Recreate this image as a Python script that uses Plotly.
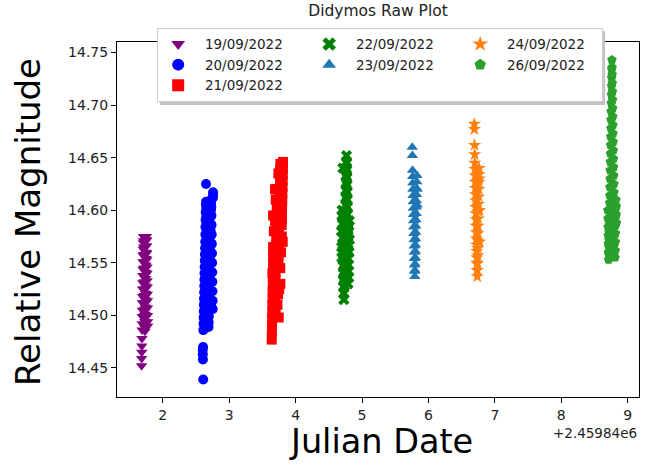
import plotly.graph_objects as go

JD_OFFSET = 2459840  # shown as +2.45984e6

labels = ["19/09/2022", "20/09/2022", "21/09/2022", "22/09/2022",
          "23/09/2022", "24/09/2022", "26/09/2022"]

# 19/09/2022
x19 = [1.680, 1.681, 1.683, 1.684, 1.686, 1.687, 1.689, 1.690, 1.692, 1.693,
       1.695, 1.696, 1.698, 1.699, 1.701, 1.702, 1.704, 1.705, 1.707, 1.708,
       1.710, 1.711, 1.713, 1.714, 1.716, 1.717, 1.719, 1.720, 1.722, 1.723,
       1.725, 1.726, 1.728, 1.729, 1.731, 1.732, 1.734, 1.735, 1.737, 1.738,
       1.740, 1.741, 1.743, 1.744, 1.746, 1.747, 1.749, 1.750, 1.752, 1.753,
       1.755, 1.756, 1.758, 1.759, 1.761, 1.762, 1.764, 1.765, 1.767, 1.768,
       1.769, 1.770, 1.771, 1.772]
y19 = [14.452, 14.459, 14.465, 14.471, 14.478, 14.486, 14.492, 14.499, 14.505, 14.512,
       14.518, 14.525, 14.531, 14.538, 14.544, 14.551, 14.557, 14.563, 14.569, 14.575,
       14.571, 14.565, 14.558, 14.551, 14.545, 14.538, 14.532, 14.525, 14.519, 14.512,
       14.506, 14.500, 14.494, 14.489, 14.485, 14.488,
       14.494, 14.501, 14.508, 14.515, 14.521, 14.528, 14.535, 14.541, 14.548, 14.554,
       14.560, 14.566, 14.571, 14.575, 14.572,
       14.566, 14.559, 14.553, 14.546, 14.540, 14.533, 14.527, 14.520, 14.514, 14.507,
       14.500, 14.494, 14.490]

# 20/09/2022
x20 = [2.600, 2.602, 2.604, 2.606, 2.608, 2.610, 2.612, 2.614, 2.616, 2.618,
       2.620, 2.622, 2.624, 2.626, 2.628, 2.630, 2.632, 2.634, 2.636, 2.638,
       2.640, 2.642, 2.644, 2.646, 2.648, 2.650, 2.652, 2.654, 2.656, 2.658,
       2.660, 2.662, 2.664, 2.666, 2.668, 2.670, 2.672, 2.674, 2.676, 2.678,
       2.680, 2.682, 2.684, 2.686, 2.688, 2.690, 2.692, 2.694, 2.696, 2.698,
       2.700, 2.702, 2.704, 2.706, 2.708, 2.710, 2.712, 2.714, 2.716, 2.718,
       2.720, 2.722, 2.724, 2.726, 2.728, 2.730, 2.732, 2.734, 2.736, 2.738,
       2.740, 2.742, 2.744, 2.746, 2.748, 2.750, 2.752, 2.754, 2.756, 2.758]
y20 = [14.467, 14.463, 14.458, 14.470, 14.439, 14.486,
       14.492, 14.498, 14.504, 14.510, 14.516, 14.522, 14.528, 14.534, 14.540, 14.546,
       14.552, 14.558, 14.564, 14.570, 14.577, 14.584, 14.591, 14.598,
       14.605, 14.625, 14.608,
       14.601, 14.594, 14.588, 14.581, 14.574, 14.567, 14.561, 14.554, 14.547, 14.540,
       14.534, 14.527, 14.520, 14.513, 14.507, 14.500, 14.494, 14.489, 14.493,
       14.499, 14.505, 14.511, 14.518, 14.524, 14.530, 14.537, 14.543, 14.549, 14.556,
       14.562, 14.568, 14.575, 14.581, 14.587, 14.594, 14.600, 14.606, 14.610,
       14.603, 14.595, 14.586, 14.577, 14.568, 14.559, 14.550, 14.541, 14.532, 14.523,
       14.514, 14.506,
       14.612, 14.617, 14.614]

# 21/09/2022
x21 = [3.640, 3.642, 3.644, 3.646, 3.648, 3.650, 3.652, 3.654, 3.656, 3.658,
       3.660, 3.662, 3.664, 3.666, 3.668, 3.670, 3.672, 3.674, 3.676, 3.678,
       3.680, 3.682, 3.684, 3.686, 3.688, 3.690, 3.692, 3.694, 3.696, 3.698,
       3.700, 3.702, 3.704, 3.706, 3.708, 3.710, 3.712, 3.714, 3.716, 3.718,
       3.720, 3.722, 3.724, 3.726, 3.728, 3.730, 3.732, 3.734, 3.736, 3.738,
       3.740, 3.742, 3.744, 3.746, 3.748, 3.750, 3.752, 3.754, 3.756, 3.758,
       3.760, 3.762, 3.764, 3.766, 3.768, 3.770, 3.772, 3.774, 3.776, 3.778,
       3.780, 3.782, 3.784, 3.786, 3.788, 3.790, 3.792, 3.794, 3.796, 3.798,
       3.800, 3.802, 3.804, 3.806, 3.808, 3.810,
       3.650, 3.660, 3.672, 3.690, 3.700, 3.712, 3.726, 3.740, 3.752, 3.768,
       3.780, 3.792, 3.660, 3.700, 3.745, 3.770, 3.690, 3.735, 3.805, 3.715]
y21 = [14.477, 14.484, 14.490, 14.497, 14.503, 14.510, 14.516, 14.523, 14.529, 14.536,
       14.542, 14.549, 14.555, 14.561,
       14.556, 14.550, 14.544, 14.538, 14.532, 14.526, 14.520, 14.514, 14.508, 14.503,
       14.509, 14.515, 14.521, 14.528, 14.534, 14.541, 14.547, 14.554, 14.560, 14.567,
       14.573, 14.580, 14.586, 14.592, 14.598, 14.603,
       14.598, 14.592, 14.586, 14.580, 14.574, 14.568, 14.562, 14.556, 14.550, 14.545,
       14.551, 14.557, 14.563, 14.569, 14.576, 14.582, 14.588, 14.595, 14.601, 14.607,
       14.614, 14.620, 14.626, 14.632, 14.638, 14.644,
       14.639, 14.633, 14.627, 14.621, 14.615, 14.609, 14.603, 14.597, 14.591, 14.586,
       14.592, 14.598, 14.604, 14.610, 14.616, 14.622, 14.628, 14.634, 14.640, 14.646,
       14.540, 14.565, 14.580, 14.590, 14.500, 14.620, 14.510, 14.635, 14.525, 14.545,
       14.560, 14.575, 14.595, 14.610, 14.498, 14.530, 14.620, 14.520, 14.570, 14.560]

# 22/09/2022
x22 = [4.700, 4.702, 4.704, 4.706, 4.708, 4.710, 4.712, 4.714, 4.716, 4.718,
       4.720, 4.722, 4.724, 4.726, 4.728, 4.730, 4.732, 4.734, 4.736, 4.738,
       4.740, 4.742, 4.744, 4.746, 4.748, 4.750, 4.752, 4.754, 4.756, 4.758,
       4.760, 4.762, 4.764, 4.766, 4.768, 4.770, 4.772, 4.774, 4.776, 4.778,
       4.780, 4.782, 4.784, 4.786, 4.788, 4.790, 4.792, 4.794, 4.796, 4.798,
       4.800,
       4.690, 4.692, 4.808, 4.810, 4.695, 4.805, 4.712, 4.788, 4.698, 4.803]
y22 = [14.600, 14.594, 14.587, 14.580, 14.574, 14.567, 14.560, 14.553, 14.547, 14.540,
       14.533, 14.527, 14.521, 14.515,
       14.521, 14.528, 14.535, 14.542, 14.549, 14.556, 14.563, 14.570, 14.577, 14.584,
       14.591, 14.598, 14.605, 14.612, 14.619, 14.626, 14.633, 14.640, 14.646, 14.652,
       14.645, 14.638, 14.631, 14.624, 14.617, 14.610, 14.603, 14.596, 14.589, 14.582,
       14.575, 14.568, 14.561, 14.554, 14.548, 14.542, 14.536,
       14.580, 14.565, 14.590, 14.572, 14.555, 14.560, 14.640, 14.530, 14.595, 14.585]

# 23/09/2022
x23 = [5.756, 5.758, 5.760, 5.762, 5.764, 5.766, 5.768, 5.770, 5.772, 5.774,
       5.776, 5.778, 5.780, 5.782, 5.784, 5.786, 5.788, 5.790, 5.792, 5.794,
       5.796, 5.798, 5.800, 5.802, 5.804, 5.806, 5.808, 5.810, 5.812, 5.814,
       5.816, 5.818, 5.820, 5.822, 5.824, 5.826, 5.828, 5.830]
y23 = [14.660, 14.652,
       14.638, 14.632, 14.626, 14.620, 14.614, 14.608, 14.602, 14.596, 14.590, 14.584,
       14.578, 14.572, 14.566, 14.560, 14.554, 14.548, 14.542, 14.537,
       14.543, 14.549, 14.555, 14.561, 14.567, 14.573, 14.579, 14.585, 14.591, 14.597,
       14.603, 14.609, 14.615, 14.621, 14.627, 14.633,
       14.620, 14.605]

# 24/09/2022
x24 = [6.690, 6.692, 6.694, 6.696, 6.698, 6.700, 6.702, 6.704, 6.706, 6.708,
       6.710, 6.712, 6.714, 6.716, 6.718, 6.720, 6.722, 6.724, 6.726, 6.728,
       6.730, 6.732, 6.734, 6.736, 6.738, 6.740, 6.742, 6.744, 6.746, 6.748,
       6.750, 6.752, 6.754, 6.756, 6.758, 6.760, 6.762, 6.764, 6.766, 6.768,
       6.770]
y24 = [14.682, 14.677, 14.662, 14.653,
       14.645, 14.639, 14.633, 14.627, 14.621, 14.615, 14.609, 14.603, 14.597, 14.591,
       14.585, 14.579, 14.573, 14.567, 14.561, 14.555, 14.549, 14.543, 14.537,
       14.543, 14.550, 14.557, 14.564, 14.571, 14.578, 14.585, 14.592, 14.599, 14.606,
       14.613, 14.620, 14.627, 14.634, 14.640,
       14.630, 14.600, 14.570]

# 26/09/2022
x26 = [8.700, 8.702, 8.704, 8.706, 8.708, 8.710, 8.712, 8.714, 8.716, 8.718,
       8.720, 8.722, 8.724, 8.726, 8.728, 8.730, 8.732, 8.734, 8.736, 8.738,
       8.740, 8.742, 8.744, 8.746, 8.748, 8.750, 8.752, 8.754, 8.756, 8.758,
       8.760, 8.762, 8.764, 8.766, 8.768, 8.770, 8.772, 8.774, 8.776, 8.778,
       8.780, 8.782, 8.784, 8.786, 8.788, 8.790, 8.792, 8.794, 8.796, 8.798,
       8.800, 8.802, 8.804, 8.806, 8.808, 8.810, 8.812, 8.814, 8.816, 8.818,
       8.820, 8.822, 8.824, 8.826, 8.828, 8.830]
y26 = [14.600, 14.592, 14.584, 14.576, 14.568, 14.560, 14.553, 14.558, 14.565, 14.572,
       14.579, 14.586, 14.593, 14.600, 14.607, 14.614,
       14.622, 14.630, 14.638, 14.646, 14.654, 14.662, 14.670, 14.678, 14.686, 14.694,
       14.702, 14.710, 14.718, 14.726, 14.734, 14.743,
       14.736, 14.729, 14.721, 14.713, 14.705, 14.697, 14.689, 14.681, 14.673, 14.665,
       14.657, 14.649, 14.641, 14.633, 14.625, 14.617, 14.609, 14.601, 14.593, 14.585,
       14.577, 14.569, 14.561, 14.555,
       14.562, 14.570, 14.578, 14.586, 14.594, 14.602, 14.610, 14.604, 14.596, 14.588]

series = [
    (labels[0], x19, y19, "triangle-down", "#800080"),
    (labels[1], x20, y20, "circle", "#0000ff"),
    (labels[2], x21, y21, "square", "#ff0000"),
    (labels[3], x22, y22, "x", "#008000"),
    (labels[4], x23, y23, "triangle-up", "#1f77b4"),
    (labels[5], x24, y24, "star", "#ff7f0e"),
    (labels[6], x26, y26, "pentagon", "#2ca02c"),
]
for name, xs, ys, _, _ in series:
    assert len(xs) == len(ys), (name, len(xs), len(ys))

xtick_vals = [2, 3, 4, 5, 6, 7, 8, 9]
ytick_vals = [14.45, 14.50, 14.55, 14.60, 14.65, 14.70, 14.75]

# legend order so that row-major wrapping gives matplotlib's column-major layout
legend_rank = {0: 1, 3: 2, 5: 3, 1: 4, 4: 5, 6: 6, 2: 7}
last_column = {5, 6}

fig = go.Figure()
for i, (name, xs, ys, sym, col) in enumerate(series):
    fig.add_trace(go.Scatter(
        x=[JD_OFFSET + v for v in xs], y=ys, mode="markers", name="\u2002" + name,
        legendrank=legend_rank[i],
        legendwidth=97 if i in last_column else None,
        marker=dict(symbol=sym, size=10, color=col, line=dict(width=0)),
    ))

tickfont = dict(family="DejaVu Sans", size=14, color="#222222")
fig.update_layout(
    width=654, height=469,
    margin=dict(l=117, r=15, t=42, b=72),
    paper_bgcolor="white", plot_bgcolor="white",
    title=dict(text="Didymos Raw Plot", x=0.578, xanchor="center", y=0.977, yanchor="middle",
               font=dict(family="DejaVu Sans", size=15.5, color="#222222")),
    showlegend=True,
    legend=dict(orientation="h", x=0.077, y=1.040, xanchor="left", yanchor="top",
                entrywidth=106, traceorder="normal",
                font=dict(family="DejaVu Sans", size=13.5, color="#222222"),
                bgcolor="white", bordercolor="#cccccc", borderwidth=1,
                itemsizing="constant"),
    font=dict(family="DejaVu Sans"),
)
fig.update_xaxes(
    range=[JD_OFFSET + 1.31, JD_OFFSET + 9.17],
    tickvals=[JD_OFFSET + v for v in xtick_vals], ticktext=[str(v) for v in xtick_vals],
    ticks="outside", ticklen=5, tickcolor="black", tickfont=tickfont,
    showline=True, linecolor="black", linewidth=1, mirror=True,
    showgrid=False, zeroline=False,
)
fig.update_yaxes(
    range=[14.4224, 14.7600],
    tickvals=ytick_vals, ticktext=["%.2f" % v for v in ytick_vals],
    ticks="outside", ticklen=5, tickcolor="black", tickfont=tickfont,
    showline=True, linecolor="black", linewidth=1, mirror=True,
    showgrid=False, zeroline=False,
)
# axis titles
fig.add_annotation(text="Julian Date", xref="paper", yref="paper", x=0.506, y=0,
                   xanchor="center", yanchor="top", yshift=-23, showarrow=False,
                   font=dict(family="DejaVu Sans", size=33.5, color="black"))
fig.add_annotation(text="Relative Magnitude", xref="paper", yref="paper", x=0, y=0.4915,
                   xanchor="center", yanchor="middle", xshift=-89.5, textangle=-90,
                   showarrow=False, font=dict(family="DejaVu Sans", size=34, color="black"))
# offset text
fig.add_annotation(text="+2.45984e6", xref="paper", yref="paper", x=1.0, y=0, xanchor="right",
                   yanchor="top", yshift=-26, showarrow=False,
                   font=dict(family="DejaVu Sans", size=13.5, color="#222222"))
# legend shadow
fig.add_shape(type="rect", xref="paper", yref="paper", x0=0.0824, x1=0.935,
              y0=0.8225, y1=1.031, fillcolor="#c4c4c4", line=dict(width=0), layer="above")

fig.write_html("out.html")
